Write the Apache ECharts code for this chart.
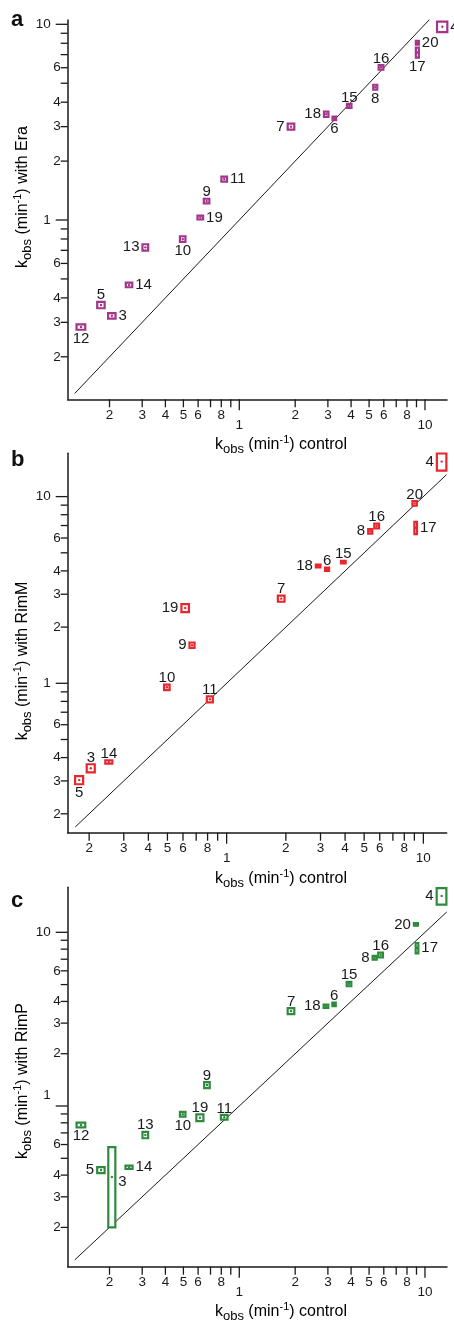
<!DOCTYPE html>
<html><head><meta charset="utf-8">
<script src="https://cdn.jsdelivr.net/npm/echarts@6/dist/echarts.min.js"></script>
<style>html,body{margin:0;padding:0;background:#fff}#c{width:454px;height:1321px}</style>
</head><body><div id="c"></div>
<script>
// ---------- tick values & labels ----------
const tickVals = [0.2,0.3,0.4,0.5,0.6,0.7,0.8,0.9,1,2,3,4,5,6,7,8,9,10];
const xTickLabels = ['2','3','4','5','6','','8','','1','2','3','4','5','6','','8','','10'];
const yTickLabels = ['2','3','4','','6','','','','1','2','3','4','','6','','','','10'];

// ---------- panel a : Era ----------
const idsA = [3,4,5,6,7,8,9,10,11,12,13,14,15,16,17,18,19,20];
const xA   = [0.206,12.4,0.18,3.25,1.90,5.40,0.667,0.496,0.83,0.1405,0.312,0.255,3.91,5.80,9.1,2.94,0.617,9.1];
const yA   = [0.324,9.72,0.368,3.31,3.0,4.77,1.25,0.80,1.62,0.284,0.725,0.466,3.83,6.03,7.18,3.47,1.03,8.05];
const xeA  = [0.0095,0.79,0.0083,0.073,0.078,0.135,0.023,0.017,0.029,0.0076,0.011,0.0102,0.11,0.17,0.17,0.081,0.0216,0.17];
const yeA  = [0.0103,0.59,0.0139,0.07,0.106,0.14,0.034,0.026,0.048,0.009,0.027,0.0127,0.09,0.16,0.42,0.11,0.024,0.19];
const posA = ['r','r','t','b','l','b','t','b','r','b','l','r','t','t','b','l','r','r'];

// ---------- panel b : RimM ----------
const idsB = [3,4,5,6,7,8,9,10,11,14,15,16,17,18,19,20];
const xB   = [0.204,12.4,0.178,3.24,1.895,5.37,0.667,0.497,0.822,0.252,3.92,5.79,9.14,2.92,0.616,9.03];
const yB   = [0.351,15.4,0.303,4.08,2.84,6.52,1.60,0.952,0.821,0.379,4.46,6.96,6.81,4.25,2.53,9.2];
const xeB  = [0.0096,0.69,0.0084,0.076,0.074,0.127,0.0197,0.0159,0.029,0.0104,0.106,0.16,0.14,0.079,0.027,0.23];
const yeB  = [0.0174,1.62,0.015,0.086,0.106,0.186,0.054,0.032,0.03,0.008,0.072,0.2,0.51,0.068,0.125,0.26];
const posB = ['t','l','b','t','t','l','l','t','t','t','t','t','r','l','l','t'];

// ---------- panel c : RimP ----------
const idsC = [3,4,5,6,7,8,9,10,11,12,13,14,15,16,17,18,19,20];
const xC   = [0.206,12.3,0.18,3.24,1.90,5.36,0.67,0.496,0.83,0.1405,0.312,0.255,3.90,5.77,9.06,2.93,0.614,8.94];
const yC   = [0.390,16.2,0.428,3.85,3.52,7.14,1.32,0.896,0.861,0.778,0.681,0.444,5.04,7.40,8.12,3.75,0.856,11.1];
const xeC  = [0.009,0.74,0.0083,0.069,0.078,0.134,0.023,0.017,0.034,0.0076,0.011,0.0112,0.113,0.17,0.15,0.085,0.027,0.22];
const yeC  = [0.19,1.77,0.017,0.092,0.14,0.17,0.053,0.028,0.027,0.024,0.029,0.0101,0.148,0.23,0.56,0.085,0.038,0.19];
const posC = ['rl','l','l','t','t','l','t','b','t','b','t','r','t','t','r','l','t','l'];

// identity lines (y = x) extents
const diagA = [0.13, 10.6];
const diagB = [0.17, 13.1];
const diagC = [0.13, 13.1];

// ---------- layout / style ----------
const FONT = '"Liberation Sans", Arial, Helvetica, sans-serif';
const INK = '#1a1a1a';
const panels = [
  {grid:{left:67.7, top:20, width:379.3, height:379.3}, x:[0.1191,13.14], y:[0.1213,10.52], color:'#a3358a',
   ids:idsA, xs:xA, ys:yA, xe:xeA, ye:yeA, pos:posA, diag:diagA, yMajorDy:[0,0]},
  {grid:{left:67.7, top:453.3, width:379, height:379.4}, x:[0.1556,13.14], y:[0.1584,17.06], color:'#e8262d',
   ids:idsB, xs:xB, ys:yB, xe:xeB, ye:yeB, pos:posB, diag:diagB, yMajorDy:[0,0]},
  {grid:{left:67.7, top:887.3, width:379.3, height:379.4}, x:[0.1191,13.14], y:[0.1188,18.16], color:'#2e8b3d',
   ids:idsC, xs:xC, ys:yC, xe:xeC, ye:yeC, pos:posC, diag:diagC, yMajorDy:[-11,0]}
];

function isMajor(v){ const l=Math.log10(v); return Math.abs(l-Math.round(l))<1e-9; }

function xTicks(i){
  return {type:'custom', xAxisIndex:i, yAxisIndex:i, clip:false, silent:true, z:3,
    data: tickVals.map(v=>[v,1]),
    renderItem(params, api){
      const k=params.dataIndex, v=tickVals[k], cs=params.coordSys;
      const px=api.coord([v,1])[0], y0=cs.y+cs.height, maj=isMajor(v);
      const len = maj?11:8;
      return {type:'group', children:[
        {type:'line', shape:{x1:px,y1:y0,x2:px,y2:y0+len}, style:{stroke:INK, lineWidth:1.3}},
        {type:'text', x:px, y:y0+(maj?26:16), style:{text:xTickLabels[k], fill:INK, font:'13.5px '+FONT, align:'center', verticalAlign:'middle'}}
      ]};
    }};
}
function yTicks(i){
  const p=panels[i];
  return {type:'custom', xAxisIndex:i, yAxisIndex:i, clip:false, silent:true, z:3,
    data: tickVals.map(v=>[1,v]),
    renderItem(params, api){
      const k=params.dataIndex, v=tickVals[k], cs=params.coordSys;
      const py=api.coord([1,v])[1], x0=cs.x, maj=isMajor(v);
      const len = maj?12:7;
      const dy = maj ? (v===1?p.yMajorDy[0]:p.yMajorDy[1]) : 0;
      return {type:'group', children:[
        {type:'line', shape:{x1:x0-len,y1:py,x2:x0,y2:py}, style:{stroke:INK, lineWidth:1.3}},
        {type:'text', x:maj?x0-17:x0-7, y:py+dy, style:{text:yTickLabels[k], fill:INK, font:'13.5px '+FONT, align:'right', verticalAlign:'middle'}}
      ]};
    }};
}
function points(i){
  const p=panels[i];
  return {type:'custom', xAxisIndex:i, yAxisIndex:i, clip:false, silent:true, z:5,
    data: p.xs.map((x,k)=>[x,p.ys[k],p.xe[k],p.ye[k]]),
    renderItem(params, api){
      const k=params.dataIndex;
      const x=api.value(0), y=api.value(1), xe=api.value(2), ye=api.value(3);
      const tl=api.coord([x-xe,y+ye]), br=api.coord([x+xe,y-ye]), c=api.coord([x,y]);
      let tx=c[0], ty=c[1], al='center', va='middle';
      switch(p.pos[k]){
        case 'r': tx=br[0]+3; al='left'; break;
        case 'rl': tx=br[0]+3; ty=c[1]+5; al='left'; break;
        case 'l': tx=tl[0]-3; al='right'; break;
        case 't': ty=tl[1]+1; va='bottom'; break;
        case 'b': ty=br[1]+1.5; va='top'; break;
      }
      return {type:'group', children:[
        {type:'rect', shape:{x:tl[0], y:tl[1], width:br[0]-tl[0], height:br[1]-tl[1]}, style:{fill:'#fff', stroke:p.color, lineWidth:2.2}},
        {type:'circle', shape:{cx:c[0], cy:c[1], r:1.2}, style:{fill:p.color}},
        {type:'text', x:tx, y:ty, style:{text:String(p.ids[k]), fill:INK, font:'15px '+FONT, align:al, verticalAlign:va}}
      ]};
    }};
}

const grids=[], xAxes=[], yAxes=[], series=[];
panels.forEach((p,i)=>{
  grids.push(p.grid);
  const axisCommon = {type:'log', logBase:10, gridIndex:i,
    axisLine:{show:true, onZero:false, lineStyle:{color:INK, width:1.5}},
    axisTick:{show:false}, axisLabel:{show:false}, splitLine:{show:false}, minorTick:{show:false}};
  xAxes.push(Object.assign({}, axisCommon, {min:p.x[0], max:p.x[1]}));
  yAxes.push(Object.assign({}, axisCommon, {min:p.y[0], max:p.y[1]}));
  series.push({type:'line', xAxisIndex:i, yAxisIndex:i, symbol:'none', silent:true, z:2,
    data:[[p.diag[0],p.diag[0]],[p.diag[1],p.diag[1]]], lineStyle:{color:INK, width:1}});
  series.push(xTicks(i), yTicks(i), points(i));
});

const rich = {
  m:{fontSize:16, lineHeight:22, fontFamily:FONT, color:INK},
  s:{fontSize:13, lineHeight:13, fontFamily:FONT, color:INK, verticalAlign:'bottom'},
  p:{fontSize:11, lineHeight:12, fontFamily:FONT, color:INK, verticalAlign:'top'}
};
function title(x,y,label,rot){
  return {type:'text', x:x, y:y, rotation:rot?Math.PI/2:0, silent:true,
    style:{text:'{m|k}{s|obs}{m| (min}{p|-1}{m|) '+label+'}', rich:rich, align:'center', verticalAlign:'middle'}};
}
function letter(x,y,t){
  return {type:'text', x:x, y:y, silent:true, style:{text:t, font:'bold 22px '+FONT, fill:'#111', align:'left', verticalAlign:'middle'}};
}

const chart = echarts.init(document.getElementById('c'), null, {renderer:'canvas'});
chart.setOption({
  animation:false, backgroundColor:'#fff',
  grid:grids, xAxis:xAxes, yAxis:yAxes, series:series,
  graphic:[
    letter(11,20,'a'), letter(11,460,'b'), letter(11,901,'c'),
    title(281,445,'control',false), title(281,879,'control',false), title(281,1312,'control',false),
    title(23,197,'with Era',true), title(23,661,'with RimM',true), title(23,1081,'with RimP',true)
  ]
});
</script></body></html>
